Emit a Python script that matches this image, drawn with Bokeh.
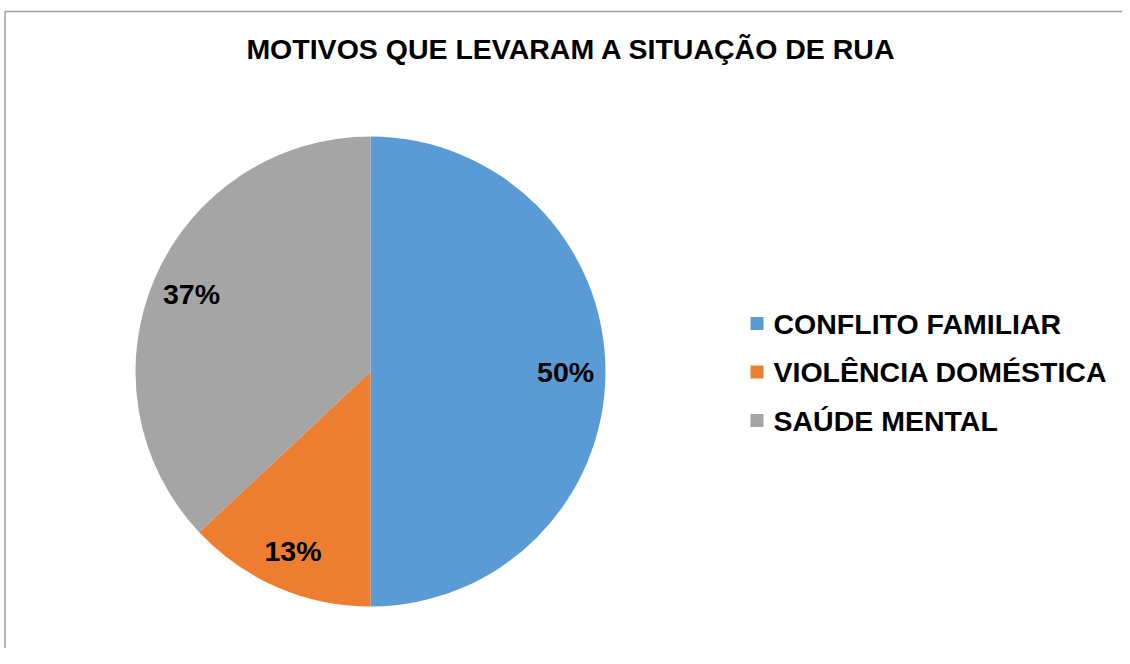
import numpy as np
from bokeh.plotting import figure
from bokeh.models import Range1d, ColumnDataSource
from bokeh.core.properties import value
from bokeh.embed import file_html
from bokeh.resources import INLINE

# ---- data ----
title_text = "MOTIVOS QUE LEVARAM A SITUAÇÃO DE RUA"
categories = ["CONFLITO FAMILIAR", "VIOLÊNCIA DOMÉSTICA", "SAÚDE MENTAL"]
percents = [50, 13, 37]
colors = ["#5B9BD5", "#ED7D31", "#A5A5A5"]

# ---- layout (picture pixel coordinates) ----
W, H = 1122, 648
BOTTOM = H


def sy(y):
    return BOTTOM - y      # picture y -> data y


FONT = value("Liberation Sans")
FS = "28.5px"

p = figure(width=W, height=H, x_range=Range1d(0, W), y_range=Range1d(0, H),
           output_backend="svg", toolbar_location=None, min_border=0,
           background_fill_color="white", border_fill_color="white")
p.axis.visible = False
p.grid.visible = False
p.outline_line_color = None

# chart frame (top and left edges visible)
p.segment(x0=[4.5, 4.5], y0=[sy(11), sy(11)], x1=[W, 4.5], y1=[sy(11), 0],
          line_color="#a0a0a0", line_width=1.5)

# title
p.text(x=[571], y=[sy(48)], text=[title_text], text_font=FONT, text_font_style="bold",
       text_font_size=FS, text_align="center", text_baseline="middle", text_color="black")

# pie
cx, cy, R = 370, sy(371), 235
frac = np.array(percents, dtype=float) / sum(percents)
cum = np.concatenate([[0], np.cumsum(frac)])
start = np.pi / 2 - 2 * np.pi * cum[:-1]
end = np.pi / 2 - 2 * np.pi * cum[1:]
mid = (start + end) / 2
src = ColumnDataSource(dict(start=start, end=end, color=colors, cat=categories))
p.wedge(x=cx, y=cy, radius=R, start_angle="start", end_angle="end", direction="clock",
        fill_color="color", line_color=None, source=src)

# data labels
rl = 0.83 * R
p.text(x=cx + rl * np.cos(mid), y=cy + rl * np.sin(mid), text=[f"{v}%" for v in percents],
       text_font=FONT, text_font_style="bold", text_font_size=FS,
       text_align="center", text_baseline="middle", text_color="black")

# legend
ly0, lstep = 323, 48.5
ly = [sy(ly0 + i * lstep) for i in range(len(categories))]
p.rect(x=[756.5] * len(categories), y=ly, width=13, height=13, fill_color=colors, line_color=None)
p.text(x=[773] * len(categories), y=ly, text=categories, text_font=FONT, text_font_style="bold",
       text_font_size=FS, text_align="left", text_baseline="middle", text_color="black")

open("out.html", "w").write(file_html(p, INLINE))
